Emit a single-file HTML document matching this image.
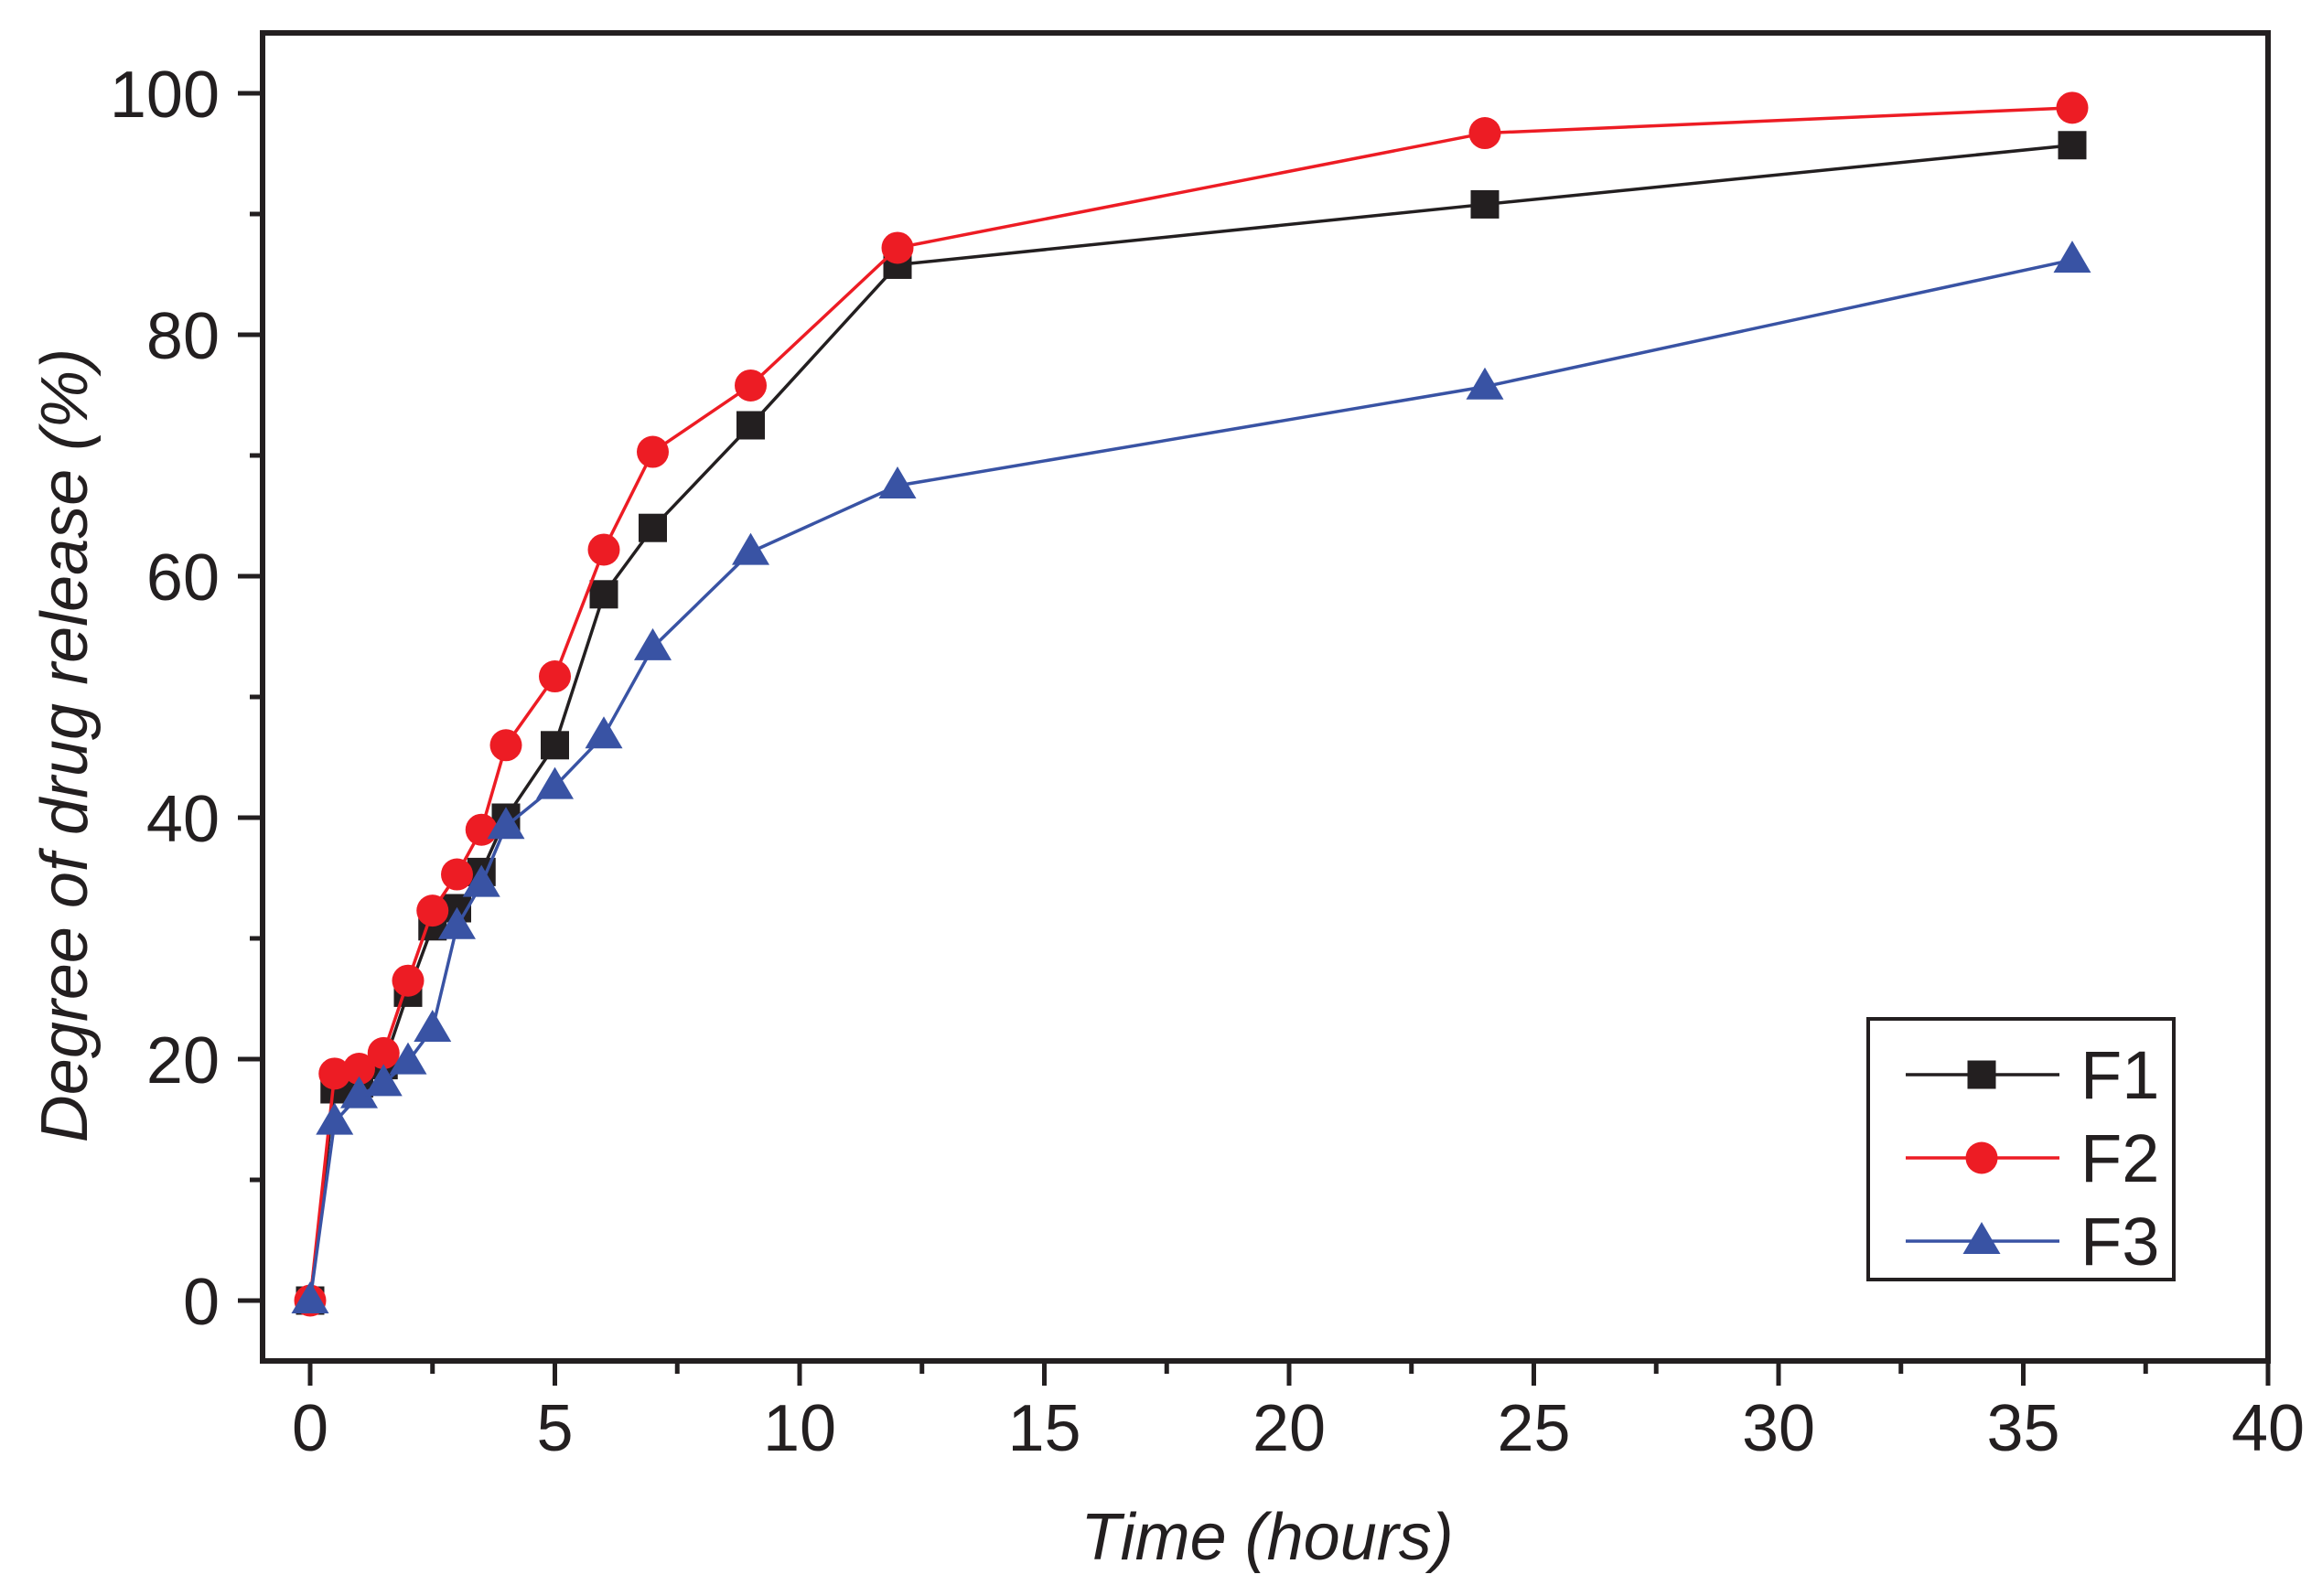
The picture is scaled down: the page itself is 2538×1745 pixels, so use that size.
<!DOCTYPE html>
<html><head><meta charset="utf-8"><style>
html,body{margin:0;padding:0;background:#fff;}
svg{display:block;font-family:"Liberation Sans",Arial,sans-serif;}
</style></head><body>
<svg id="chart" width="2538" height="1745" viewBox="0 0 2538 1745" xmlns="http://www.w3.org/2000/svg"></svg>
<script>
const timeHours = [0,0.5,1,1.5,2,2.5,3,3.5,4,5,6,7,9,12,24,36];
const f1Values = [0,17.5,18,19.5,25.5,31,32.5,35.5,40,46,58.5,64,72.5,85.8,90.8,95.7];
const f2Values = [0,18.8,19.2,20.5,26.5,32.3,35.3,39,46,51.7,62.2,70.3,75.8,87.2,96.7,98.8];
const f3Values = [0,14.8,17,18,19.8,22.5,31,34.5,39.3,42.6,46.8,54.1,62,67.5,75.7,86.2];
const xTicks = [0,5,10,15,20,25,30,35,40];
const yTicks = [0,20,40,60,80,100];
const seriesNames = ["F1","F2","F3"];

const NS="http://www.w3.org/2000/svg";
const svg=document.getElementById('chart');
const X0=339, XU=53.5, Y0=1422, YU=13.2;
const L=287, R=2479, T=36, B=1488;
const sx=v=>X0+v*XU, sy=v=>Y0-v*YU;
const INK="#231f20";
function mk(tag,attrs,parent){const e=document.createElementNS(NS,tag);for(const k in attrs)e.setAttribute(k,attrs[k]);(parent||svg).appendChild(e);return e;}

const frame=mk('rect',{x:L,y:T,width:R-L,height:B-T,fill:'none',stroke:INK,'stroke-width':6});



const xg=mk('g',{});


for(let v=0;v<=40;v+=2.5){
  const major=v%5===0;
  const t=mk('line',{x1:sx(v),x2:sx(v),y1:B,y2:B+(major?27:14),stroke:INK,'stroke-width':5},xg);
  
  
}
xTicks.forEach(v=>{
  const t=mk('text',{x:sx(v),y:1586,'text-anchor':'middle','font-size':72,fill:INK},xg);
  t.textContent=v;
  
  
});
const yg=mk('g',{});


for(let v=0;v<=100;v+=10){
  const major=v%20===0;
  const t=mk('line',{x1:L,x2:L-(major?27:14),y1:sy(v),y2:sy(v),stroke:INK,'stroke-width':5},yg);
  
  
}
yTicks.forEach(v=>{
  const t=mk('text',{x:240,y:sy(v)+26,'text-anchor':'end','font-size':72,fill:INK},yg);
  t.textContent=v;
  
  
});
const xt=mk('text',{x:1385,y:1705,'text-anchor':'middle','font-size':72,'font-style':'italic',fill:INK});
xt.textContent='Time (hours)';


const yt=mk('text',{x:0,y:0,'text-anchor':'middle','font-size':72,'font-style':'italic',fill:INK,transform:'translate(95,815) rotate(-90)'});
yt.textContent='Degree of drug release (%)';



function marker(kind,cx,cy,color,g){
  let e;
  if(kind==='square') e=mk('rect',{x:cx-15.5,y:cy-15.5,width:31,height:31,fill:color},g);
  else if(kind==='circle') e=mk('circle',{cx:cx,cy:cy,r:17.5,fill:color},g);
  else e=mk('polygon',{points:`${cx},${cy-21} ${cx-20.5},${cy+14} ${cx+20.5},${cy+14}`,fill:color},g);
  return e;
}
const series=[
  {vals:f1Values,color:INK,kind:'square'},
  {vals:f2Values,color:'#ed1c24',kind:'circle'},
  {vals:f3Values,color:'#3953a4',kind:'triangle'}
];
series.forEach((s,i)=>{
  const g=mk('g',{});
  
  
  const pts=timeHours.map((t,j)=>sx(t)+','+sy(s.vals[j])).join(' ');
  const pl=mk('polyline',{points:pts,fill:'none',stroke:s.color,'stroke-width':3.5},g);
  
  
  timeHours.forEach((t,j)=>{
    const m=marker(s.kind,sx(t),sy(s.vals[j]),s.color,g);
    
    
  });
});

const lg=mk('g',{});


const lb=mk('rect',{x:2042,y:1114,width:334,height:285,fill:'#fff',stroke:INK,'stroke-width':4},lg);


const rows=[1175,1266,1357];
series.forEach((s,i)=>{
  const eg=mk('g',{},lg);
  
  
  mk('line',{x1:2083,x2:2251,y1:rows[i],y2:rows[i],stroke:s.color,'stroke-width':3.5},eg);
  marker(s.kind,2166,rows[i],s.color,eg);
  const t=mk('text',{x:2274,y:rows[i]+26,'font-size':74,fill:INK},eg);
  t.textContent=seriesNames[i];
});
</script>
</body></html>
